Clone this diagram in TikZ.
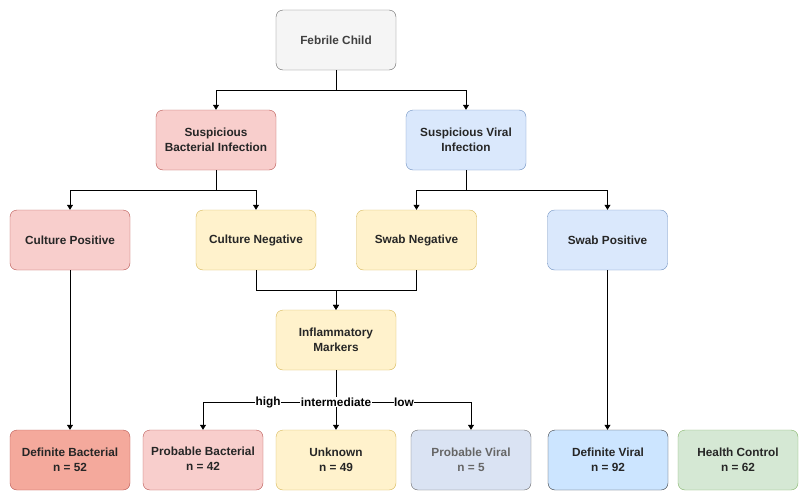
\documentclass[tikz,border=0pt]{standalone}
\usepackage{fontspec}
\setmainfont{Liberation Sans}
\usepackage{xcolor}
\usetikzlibrary{arrows.meta}
\definecolor{GreyFill}{HTML}{F5F5F5}
\definecolor{GreyLine}{HTML}{666666}
\definecolor{RedFill}{HTML}{F8CECC}
\definecolor{RedLine}{HTML}{B85450}
\definecolor{DarkRedFill}{HTML}{F4A99C}
\definecolor{BlueFill}{HTML}{DAE8FC}
\definecolor{BlueLine}{HTML}{6C8EBF}
\definecolor{YellowFill}{HTML}{FFF2CC}
\definecolor{YellowLine}{HTML}{D6B656}
\definecolor{PaleBlueFill}{HTML}{DAE3F3}
\definecolor{DeepBlueFill}{HTML}{CCE5FF}
\definecolor{DeepBlueLine}{HTML}{36393D}
\definecolor{GreenFill}{HTML}{D5E8D4}
\definecolor{GreenLine}{HTML}{82B366}

\begin{document}
\begin{tikzpicture}[x=1pt, y=-1pt,
    font=\fontsize{11.8}{14.5}\selectfont\bfseries,
    box/.style={draw, rounded corners=7pt, minimum width=120pt, minimum height=60pt,
      align=center, inner sep=2pt, text=black!85},
    edge/.style={draw, line width=0.8pt, -{Triangle[width=6pt,length=5pt]}},
    link/.style={draw, line width=0.8pt},
    tag/.style={fill=white, inner sep=0.5pt}]
      \useasboundingbox (0, 0) rectangle (809, 501);
      % top levels
      \node[box, fill=GreyFill, draw=GreyLine, text=black!75] (febrile) at (336, 40) {Febrile Child};
      \node[box, fill=RedFill, draw=RedLine] (susbac) at (216, 140) {Suspicious\\Bacterial Infection};
      \node[box, fill=BlueFill, draw=BlueLine] (susvir) at (466, 140) {Suspicious Viral\\Infection};
      % tests
      \node[box, fill=RedFill, draw=RedLine] (culpos) at (70, 240) {Culture Positive};
      \node[box, fill=YellowFill, draw=YellowLine] (culneg) at (256, 240) {Culture Negative};
      \node[box, fill=YellowFill, draw=YellowLine] (swabneg) at (416.5, 240) {Swab Negative};
      \node[box, fill=BlueFill, draw=BlueLine] (swabpos) at (607.5, 240) {Swab Positive};
      \node[box, fill=YellowFill, draw=YellowLine] (markers) at (336, 340) {Inflammatory\\Markers};
      % outcomes
      \node[box, fill=DarkRedFill, draw=RedLine] (defbac) at (70, 460) {Definite Bacterial\\n = 52};
      \node[box, fill=RedFill, draw=RedLine] (probbac) at (203, 460) {Probable Bacterial\\n = 42\vphantom{p}};
      \node[box, fill=YellowFill, draw=YellowLine] (unknown) at (336, 460) {Unknown\\n = 49};
      \node[box, fill=PaleBlueFill, draw=GreyLine, text=black!60] (probvir) at (471, 460) {Probable Viral\\n = 5};
      \node[box, fill=DeepBlueFill, draw=DeepBlueLine] (defvir) at (608, 460) {Definite Viral\\n = 92};
      \node[box, fill=GreenFill, draw=GreenLine] (health) at (738, 460) {Health Control\\n = 62};
      % connectors
      \draw[edge] (febrile.south) |- (216, 90) -- (susbac.north);
      \draw[edge] (febrile.south) |- (466, 90) -- (susvir.north);
      \draw[edge] (susbac.south) |- (70, 190) -- (culpos.north);
      \draw[edge] (susbac.south) |- (256, 190) -- (culneg.north);
      \draw[edge] (susvir.south) |- (416.5, 190) -- (swabneg.north);
      \draw[edge] (susvir.south) |- (607.5, 190) -- (swabpos.north);
      \draw[edge] (culneg.south) |- (336, 290) -- (markers.north);
      \draw[edge] (swabneg.south) |- (336, 290) -- (markers.north);
      \draw[edge] (culpos.south) -- (defbac.north);
      \draw[edge] (swabpos.south) -- (swabpos.south |- defvir.north);
      \draw[edge] (markers.south) |- (203, 402) -- (probbac.north);
      \draw[edge] (markers.south) |- (471, 402) -- (probvir.north);
      \draw[edge] (markers.south) -- (unknown.north);
      \node[tag] (high) at (268, 402) {high};
      \node[tag] (inter) at (336, 402) {intermediate};
      \node[tag] (low) at (404, 402) {low};
\end{tikzpicture}
\end{document}
